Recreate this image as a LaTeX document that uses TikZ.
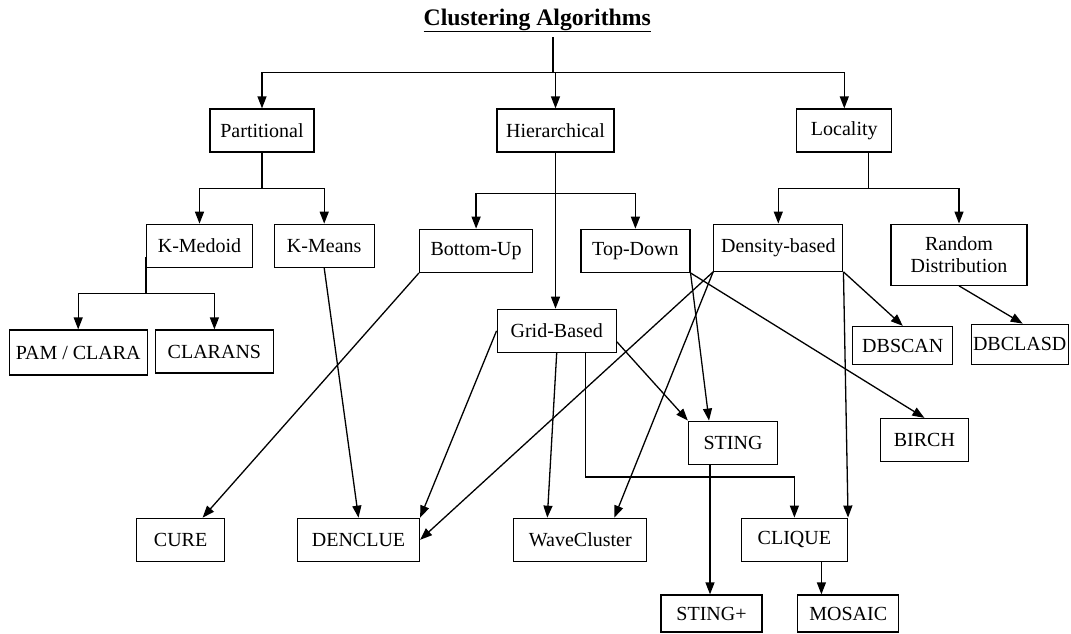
\documentclass[tikz,border=0pt]{standalone}
\usepackage{fontspec}
\setmainfont{Liberation Serif}
\usetikzlibrary{arrows.meta}

\tikzset{
  box/.style={draw, line width=1.3pt, inner sep=0pt, align=center,
    font=\fontsize{20}{22.5}\selectfont},
  link/.style={line width=1.3pt},
  arr/.style={line width=1.3pt, -{Triangle[length=12pt,width=9pt]}}
}

\begin{document}
\begin{tikzpicture}[x=1pt, y=-1pt]
  \useasboundingbox (0,0) rectangle (1071,633);

  \node[anchor=base, font=\fontsize{23.7}{26}\selectfont\bfseries] (title) at (537.3,25) {\underline{Clustering Algorithms}};

  \node[box, minimum width=104, minimum height=43] (partitional) at (262,130.5) {Partitional};
  \node[box, minimum width=117, minimum height=43] (hierarchical) at (555.5,130.5) {Hierarchical};
  \node[box, minimum width=95, minimum height=43] (locality) at (844.3,130.5) {Locality};

  \node[box, minimum width=106, minimum height=43] (kmedoid) at (199.5,245.8) {K-Medoid};
  \node[box, minimum width=100, minimum height=43] (kmeans) at (324.2,245.8) {K-Means};
  \node[box, minimum width=113, minimum height=43] (bottomup) at (476.1,250.8) {Bottom-Up};
  \node[box, minimum width=109, minimum height=43] (topdown) at (635.4,250.8) {Top-Down};
  \node[box, minimum width=129, minimum height=47] (density) at (778.3,247.7) {Density-based};
  \node[box, minimum width=136, minimum height=61] (random) at (959,254.7) {Random\\Distribution};

  \node[box, minimum width=138, minimum height=45] (pam) at (78.2,352.5) {PAM / CLARA};
  \node[box, minimum width=118, minimum height=43] (clarans) at (214.4,351.5) {CLARANS};
  \node[box, minimum width=119, minimum height=43] (grid) at (556.7,330.8) {Grid-Based};
  \node[box, minimum width=100, minimum height=38] (dbscan) at (902.8,345.5) {DBSCAN};
  \node[box, minimum width=97, minimum height=40] (dbclasd) at (1019.7,344.3) {DBCLASD};

  \node[box, minimum width=89, minimum height=43] (sting) at (733,442.7) {STING};
  \node[box, minimum width=88, minimum height=43] (birch) at (924.4,440) {BIRCH};

  \node[box, minimum width=88, minimum height=43] (cure) at (180.6,539.8) {CURE};
  \node[box, minimum width=122, minimum height=43] (denclue) at (358.5,539.8) {DENCLUE};
  \node[box, minimum width=133, minimum height=43] (wavecluster) at (580.3,539.8) {WaveCluster};
  \node[box, minimum width=106, minimum height=43] (clique) at (794.4,539.7) {CLIQUE};

  \node[box, minimum width=101, minimum height=37] (stingplus) at (711.5,613.5) {STING+};
  \node[box, minimum width=101, minimum height=37] (mosaic) at (848.2,613.5) {MOSAIC};

  \coordinate (top) at (553,37);
  \coordinate (split) at (553,72.3);
  \draw[link] (top) -- (split);
  \draw[arr] (split) -| (partitional.north);
  \draw[arr] (split) -| (hierarchical.north);
  \draw[arr] (split) -| (locality.north);

  \draw[link] (partitional.south) -- ++(0,36) coordinate (psplit);
  \draw[arr] (psplit) -| (kmedoid.north);
  \draw[arr] (psplit) -| (kmeans.north);

  \draw[link] (hierarchical.south) -- ++(0,41) coordinate (hsplit);
  \draw[arr] (hsplit) -| (bottomup.north);
  \draw[arr] (hsplit) -| (topdown.north);
  \draw[arr] (hierarchical.south) -- (hierarchical.south |- grid.north);

  \draw[link] ([xshift=24pt]locality.south) -- ++(0,36) coordinate (lsplit);
  \draw[arr] (lsplit) -| (density.north);
  \draw[arr] (lsplit) -| (random.north);

  \draw[link] ([yshift=-11pt]kmedoid.west) -- ++(0,37) coordinate (ksplit);
  \draw[arr] (ksplit) -| (pam.north);
  \draw[arr] (ksplit) -| (clarans.north);

  \draw[arr] (bottomup.south west) -- ([xshift=22pt]cure.north);
  \draw[arr] (kmeans.south) -- (denclue.north);
  \draw[arr] (grid.west) -- (denclue.north east);
  \draw[arr] (density.south west) -- (denclue.east);
  \draw[arr] (density.south west) -- ([xshift=34pt]wavecluster.north);
  \draw[arr] (grid.south) -- ([xshift=-33pt]wavecluster.north);
  \draw[arr] ([xshift=29pt]grid.south) -- ++(0,124) -| (clique.north);
  \draw[arr] ([yshift=-11pt]grid.east) -- (sting.north west);
  \draw[arr] (topdown.south east) -- ([xshift=-24pt]sting.north);
  \draw[arr] (topdown.south east) -- (birch.north);
  \draw[arr] ([xshift=-23pt]sting.south) -- ([xshift=-23pt]sting.south |- stingplus.north);
  \draw[arr] ([xshift=27pt]clique.south) -- ([xshift=27pt]clique.south |- mosaic.north);
  \draw[arr] (density.south east) -- (clique.north east);
  \draw[arr] (density.south east) -- (dbscan.north);
  \draw[arr] (random.south) -- ([xshift=3pt]dbclasd.north);
\end{tikzpicture}
\end{document}
